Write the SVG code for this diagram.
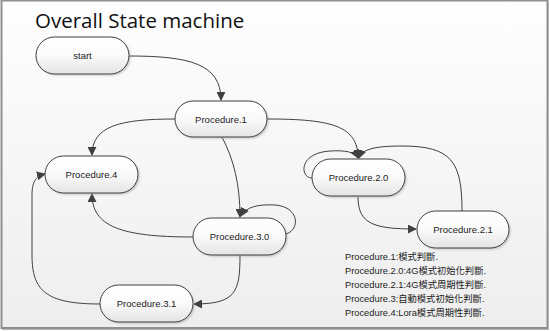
<svg xmlns="http://www.w3.org/2000/svg" width="550" height="331" viewBox="0 0 550 331">
  <defs>
    <linearGradient id="bg" x1="0" y1="0" x2="0" y2="1">
      <stop offset="0" stop-color="#fefefe"/>
      <stop offset="1" stop-color="#eeeeee"/>
    </linearGradient>
    <linearGradient id="nodeFill" x1="0" y1="0" x2="0" y2="1">
      <stop offset="0" stop-color="#ffffff"/>
      <stop offset="0.5" stop-color="#fafafa"/>
      <stop offset="1" stop-color="#e4e4e4"/>
    </linearGradient>
    <filter id="shadow" x="-20%" y="-30%" width="140%" height="160%">
      <feGaussianBlur stdDeviation="1.2"/>
    </filter>
    <marker id="arrow" viewBox="0 0 10 10" refX="9" refY="5" markerWidth="9" markerHeight="9" markerUnits="userSpaceOnUse" orient="auto">
      <path d="M0,0 L10,5 L0,10 z" fill="#404040"/>
    </marker>
    <style>
      .node rect.body { fill: url(#nodeFill); stroke: #404040; stroke-width: 1; }
      .node rect.sh { fill: #9a9a9a; opacity: 0.55; filter: url(#shadow); }
      .node text { font-family: "Liberation Sans", "DejaVu Sans", sans-serif; font-size: 9.5px; fill: #222; text-anchor: middle; }
      .edge { fill: none; stroke: #404040; stroke-width: 1; marker-end: url(#arrow); }
      .title { font-family: "Open Sans", "Liberation Sans", sans-serif; font-size: 20.5px; fill: #111; }
      .legend { font-family: "Liberation Sans", "Noto Sans CJK TC", sans-serif; font-size: 9.3px; fill: #222; }
    </style>
  </defs>

  <rect x="1.5" y="0.5" width="546" height="327.5" fill="url(#bg)" stroke="#8f8f8f" stroke-width="2"/>
  <line x1="548.5" y1="1" x2="548.5" y2="329" stroke="#b5b5b5" stroke-width="1"/>
  <line x1="2" y1="329.5" x2="549" y2="329.5" stroke="#b5b5b5" stroke-width="1"/>

  <text class="title" x="35" y="28">Overall State machine</text>

  <g id="connectors">
    <path class="edge" d="M129,56 C190,56 221,64 221,100"/>
    <path class="edge" d="M175,119 C120,119 92,126 92,155"/>
    <path class="edge" d="M267,119 C332,119 358,126 358,158"/>
    <path class="edge" d="M222,137 C234,160 240,185 240,217"/>
    <path class="edge" d="M286,234 C300,230 300,207 275,205 C258,204 246,207 241,216"/>
    <path class="edge" d="M193,237 C120,237 92,226 92,194"/>
    <path class="edge" d="M240,255 C240,292 236,304 194,304"/>
    <path class="edge" d="M100,304 C45,304 32,290 32,255 L32,195 C32,180 37,176 45,174"/>
    <path class="edge" d="M312,178 C300,178 298,153 330,151 C345,150 355,152 358,158"/>
    <path class="edge" d="M358,197 C358,224 374,229 416,229"/>
    <path class="edge" d="M462,211 C462,162 452,146 402,146 C372,146 362,150 359,158"/>
  </g>

  <g id="start" class="node">
    <rect class="sh" x="37.5" y="38.5" width="93" height="37" rx="18.5"/>
    <rect class="body" x="36" y="37" width="93" height="37" rx="18.5"/>
    <text x="82.5" y="59">start</text>
  </g>
  <g id="procedure-1" class="node">
    <rect class="sh" x="176.5" y="102.5" width="92" height="36" rx="18"/>
    <rect class="body" x="175" y="101" width="92" height="36" rx="18"/>
    <text x="221" y="122.5">Procedure.1</text>
  </g>
  <g id="procedure-4" class="node">
    <rect class="sh" x="46.5" y="157.5" width="93" height="37" rx="18.5"/>
    <rect class="body" x="45" y="156" width="93" height="37" rx="18.5"/>
    <text x="91.5" y="178">Procedure.4</text>
  </g>
  <g id="procedure-3-0" class="node">
    <rect class="sh" x="194.5" y="219.5" width="93" height="37" rx="18.5"/>
    <rect class="body" x="193" y="218" width="93" height="37" rx="18.5"/>
    <text x="239.5" y="240">Procedure.3.0</text>
  </g>
  <g id="procedure-3-1" class="node">
    <rect class="sh" x="101.5" y="286.5" width="93" height="37" rx="18.5"/>
    <rect class="body" x="100" y="285" width="93" height="37" rx="18.5"/>
    <text x="146.5" y="307">Procedure.3.1</text>
  </g>
  <g id="procedure-2-0" class="node">
    <rect class="sh" x="313.5" y="160.5" width="93" height="37" rx="18.5"/>
    <rect class="body" x="312" y="159" width="93" height="37" rx="18.5"/>
    <text x="358.5" y="181">Procedure.2.0</text>
  </g>
  <g id="procedure-2-1" class="node">
    <rect class="sh" x="418.5" y="212.5" width="92" height="37" rx="18.5"/>
    <rect class="body" x="417" y="211" width="92" height="37" rx="18.5"/>
    <text x="463" y="233">Procedure.2.1</text>
  </g>

  <g id="legend">
    <text class="legend" x="345" y="260">Procedure.1:模式判斷.</text>
    <text class="legend" x="345" y="274">Procedure.2.0:4G模式初始化判斷.</text>
    <text class="legend" x="345" y="288">Procedure.2.1:4G模式周期性判斷.</text>
    <text class="legend" x="345" y="302">Procedure.3:自動模式初始化判斷.</text>
    <text class="legend" x="345" y="316">Procedure.4:Lora模式周期性判斷.</text>
  </g>
</svg>
